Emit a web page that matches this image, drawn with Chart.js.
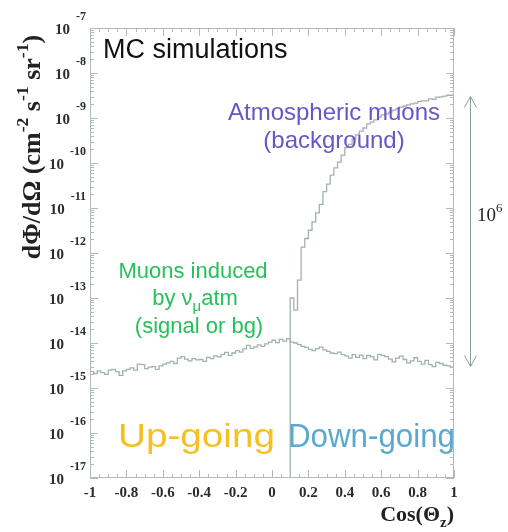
<!DOCTYPE html>
<html>
<head>
<meta charset="utf-8">
<script src="https://cdn.jsdelivr.net/npm/chart.js@4.4.1/dist/chart.umd.min.js"></script>
<style>
  html,body{margin:0;padding:0;background:#fff;}
  #wrap{width:508px;height:532px;position:relative;}
</style>
</head>
<body>
<div id="wrap"><canvas id="flux"></canvas></div>
<script>
// bins of 0.02 in cos(theta_z), from -1 to 1
var binWidth = 0.02;
var xMin = -1;
var xMax = 1;
var yMin = 1e-17;
var yMax = 1e-7;

// muons induced by atmospheric numu (100 bins, -1 .. 1)
var nuFlux = [
  2.3e-15,2.1e-15,2.4e-15,2.2e-15,2.0e-15,2.5e-15,2.6e-15,2.3e-15,1.9e-15,2.4e-15,
  2.6e-15,2.8e-15,2.5e-15,3.4e-15,3.3e-15,2.7e-15,2.9e-15,3.0e-15,2.6e-15,3.1e-15,
  3.4e-15,3.6e-15,3.9e-15,3.5e-15,4.6e-15,5.0e-15,4.4e-15,4.0e-15,4.5e-15,4.2e-15,
  4.3e-15,3.9e-15,4.8e-15,4.5e-15,5.2e-15,4.9e-15,5.6e-15,6.2e-15,5.3e-15,6.0e-15,
  6.8e-15,6.3e-15,7.4e-15,8.9e-15,7.6e-15,8.2e-15,9.1e-15,8.4e-15,9.6e-15,1.05e-14,
  1.15e-14,1.02e-14,1.2e-14,1.1e-14,1.25e-14,1.05e-14,1.0e-14,9.2e-15,8.4e-15,8.0e-15,
  7.2e-15,6.8e-15,7.5e-15,8.1e-15,7.0e-15,6.5e-15,6.0e-15,5.8e-15,6.3e-15,5.5e-15,
  5.2e-15,4.6e-15,5.5e-15,4.8e-15,5.4e-15,4.5e-15,5.3e-15,4.9e-15,4.2e-15,5.6e-15,
  5.3e-15,5.0e-15,4.4e-15,3.8e-15,4.6e-15,5.1e-15,4.3e-15,3.6e-15,4.0e-15,4.7e-15,
  3.9e-15,3.4e-15,4.1e-15,3.3e-15,3.0e-15,3.7e-15,3.5e-15,3.2e-15,3.1e-15,2.9e-15
];

// atmospheric muons, starting at cos = 0.1 (45 bins)
var muStart = 0.1;
var muFlux = [
  1.0e-13,5.4e-14,2.5e-13,1.35e-12,2.1e-12,3.2e-12,4.9e-12,7.8e-12,1.2e-11,2.3e-11,
  3.4e-11,5.4e-11,7.8e-11,1.05e-10,1.5e-10,2.2e-10,2.6e-10,3.4e-10,4.2e-10,5.1e-10,
  6.0e-10,7.4e-10,8.1e-10,9.1e-10,1.05e-9,1.17e-9,1.23e-9,1.35e-9,1.5e-9,1.6e-9,
  1.75e-9,1.85e-9,1.95e-9,2.05e-9,2.15e-9,2.3e-9,2.4e-9,2.4e-9,2.65e-9,2.6e-9,
  2.9e-9,2.95e-9,3.05e-9,3.2e-9,3.2e-9
];

var xTicks = [-1,-0.8,-0.6,-0.4,-0.2,0,0.2,0.4,0.6,0.8,1];
var yDecades = [-17,-16,-15,-14,-13,-12,-11,-10,-9,-8,-7];

// arrow marks the 10^6 gap between the two fluxes
var arrowTop = 3e-9;
var arrowBottom = 3e-15;

var lineColor = "#a2b2b0";
var frameColor = "#b3bbba";
var serifFont = "'Liberation Serif','DejaVu Serif',serif";
var sansFont = "'Liberation Sans',Arial,sans-serif";

// histogram -> step points (value held until next edge)
function histPoints(start, values, fromZero){
  var pts = [];
  if(fromZero){
    pts.push({x:start, y:yMin});
  }
  for(var i=0;i<values.length;i++){
    pts.push({x:+(start+i*binWidth).toFixed(4), y:values[i]});
  }
  pts.push({x:+(start+values.length*binWidth).toFixed(4), y:values[values.length-1]});
  return pts;
}

// draw a run of text pieces, some raised or lowered
function drawParts(ctx, parts, x, y, size, font, weight, align){
  var total = 0;
  var widths = [];
  for(var i=0;i<parts.length;i++){
    var s = parts[i].sup || parts[i].sub ? size*0.68 : size;
    ctx.font = weight + " " + s + "px " + font;
    var w = ctx.measureText(parts[i].t).width;
    widths.push(w);
    total += w;
  }
  var cx = x;
  if(align=="center") cx = x - total/2;
  if(align=="right") cx = x - total;
  ctx.textAlign = "left";
  ctx.textBaseline = "alphabetic";
  for(var i=0;i<parts.length;i++){
    var s = parts[i].sup || parts[i].sub ? size*0.68 : size;
    ctx.font = weight + " " + s + "px " + font;
    var dy = 0;
    if(parts[i].sup) dy = -size*0.45;
    if(parts[i].sub) dy = size*0.25;
    ctx.fillText(parts[i].t, cx, y+dy);
    cx += widths[i];
  }
}

// text squeezed/stretched to a given width
function fitText(ctx, txt, x, y, width){
  var w = ctx.measureText(txt).width;
  ctx.save();
  ctx.translate(x, y);
  ctx.scale(width/w, 1);
  ctx.textAlign = "left";
  ctx.fillText(txt, 0, 0);
  ctx.restore();
}

var framePlugin = {
  id:"frame",
  afterDatasetsDraw:function(chart){
    var ctx = chart.ctx;
    var a = chart.chartArea;
    var xs = chart.scales.x;
    var ys = chart.scales.y;
    ctx.save();
    ctx.strokeStyle = frameColor;
    ctx.lineWidth = 1;
    ctx.strokeRect(a.left+0.5, a.top+0.5, a.right-a.left-1, a.bottom-a.top-1);

    // x ticks, inside, bottom and top
    ctx.beginPath();
    for(var k=0;k<=40;k++){
      var v = xMin + k*0.05;
      var px = Math.round(xs.getPixelForValue(v))+0.5;
      var len = (k%4==0) ? 8 : 4;
      ctx.moveTo(px, a.bottom); ctx.lineTo(px, a.bottom-len);
      ctx.moveTo(px, a.top); ctx.lineTo(px, a.top+len);
    }
    // y ticks, log decades + minor
    for(var d=0;d<yDecades.length;d++){
      var e = yDecades[d];
      for(var m=1;m<10;m++){
        var val = m*Math.pow(10,e);
        if(val>yMax*1.0001) break;
        var py = Math.round(ys.getPixelForValue(val))+0.5;
        var len = (m==1) ? 8 : 4;
        ctx.moveTo(a.left, py); ctx.lineTo(a.left+len, py);
        ctx.moveTo(a.right, py); ctx.lineTo(a.right-len, py);
      }
    }
    ctx.stroke();

    // tick labels
    ctx.fillStyle = "#2b2b2b";
    ctx.textAlign = "center";
    ctx.textBaseline = "middle";
    ctx.font = "bold 15px " + serifFont;
    for(var i=0;i<xTicks.length;i++){
      ctx.fillText(String(xTicks[i]), xs.getPixelForValue(xTicks[i]), a.bottom+15);
    }
    for(var d=0;d<yDecades.length;d++){
      var py = ys.getPixelForValue(Math.pow(10,yDecades[d]));
      ctx.textAlign = "right";
      ctx.textBaseline = "alphabetic";
      ctx.font = "bold 12px " + serifFont;
      var ex = String(yDecades[d]);
      var ew = ctx.measureText(ex).width;
      ctx.fillText(ex, 86, py-8);
      ctx.font = "bold 15px " + serifFont;
      ctx.fillText("10", 86-ew-6, py+6);
    }

    // axis titles
    ctx.fillStyle = "#222";
    drawParts(ctx, [{t:"Cos(\u0398"},{t:"z",sub:true},{t:")"}], a.right, a.bottom+43, 22, serifFont, "bold", "right");
    ctx.save();
    ctx.translate(40, 147);
    ctx.rotate(-Math.PI/2);
    drawParts(ctx, [{t:"d\u03A6/d\u03A9 (cm"},{t:"-2",sup:true},{t:" s"},{t:"-1",sup:true},{t:" sr"},{t:"-1",sup:true},{t:")"}], 0, 0, 26, serifFont, "bold", "center");
    ctx.restore();

    // annotations
    ctx.fillStyle = "#111";
    ctx.textAlign = "left";
    ctx.font = "27px " + sansFont;
    ctx.fillText("MC simulations", a.left+13, 58);

    ctx.fillStyle = "#6a55c8";
    ctx.textAlign = "center";
    ctx.font = "24px " + sansFont;
    ctx.fillText("Atmospheric muons", 334, 120);
    ctx.fillText("(background)", 334, 148);

    ctx.fillStyle = "#27c05a";
    ctx.font = "22px " + sansFont;
    ctx.fillText("Muons induced", 193, 278);
    drawParts(ctx, [{t:"by \u03BD"},{t:"\u03BC",sub:true},{t:"atm"}], 195, 305, 22, sansFont, "normal", "center");
    ctx.textAlign = "center";
    ctx.font = "22px " + sansFont;
    ctx.fillText("(signal or bg)", 199, 333);

    ctx.font = "34px " + sansFont;
    ctx.fillStyle = "#f6bf22";
    fitText(ctx, "Up-going", 118, 447, 157);
    ctx.fillStyle = "#5ba9d1";
    fitText(ctx, "Down-going", 288, 447, 167);

    // 10^6 arrow
    var ay1 = ys.getPixelForValue(arrowTop);
    var ay2 = ys.getPixelForValue(arrowBottom);
    var ax = 470.5;
    ctx.strokeStyle = "#8e9c9b";
    ctx.lineWidth = 1;
    ctx.beginPath();
    ctx.moveTo(ax, ay1); ctx.lineTo(ax, ay2);
    ctx.moveTo(ax-6, ay1+11); ctx.lineTo(ax, ay1); ctx.lineTo(ax+6, ay1+11);
    ctx.moveTo(ax-6, ay2-11); ctx.lineTo(ax, ay2); ctx.lineTo(ax+6, ay2-11);
    ctx.stroke();
    ctx.fillStyle = "#222";
    drawParts(ctx, [{t:"10"},{t:"6",sup:true}], 477, 221, 19, serifFont, "normal", "left");
    ctx.restore();
  }
};

var ctx = document.getElementById("flux");
var chart = new Chart(ctx,{
  type:"line",
  data:{
    datasets:[{
      label:"nu induced",
      data:histPoints(xMin, nuFlux, false),
      borderColor:lineColor,
      borderWidth:1.3,
      pointRadius:0,
      stepped:"before",
      fill:false
    },{
      label:"atm muons",
      data:histPoints(muStart, muFlux, true),
      borderColor:lineColor,
      borderWidth:1.3,
      pointRadius:0,
      stepped:"before",
      fill:false
    }]
  },
  options:{
    responsive:true,
    maintainAspectRatio:false,
    animation:false,
    layout:{padding:{left:90,right:54,top:28,bottom:54}},
    plugins:{legend:{display:false},tooltip:{enabled:false}},
    scales:{
      x:{type:"linear",min:xMin,max:xMax,display:false},
      y:{type:"logarithmic",min:yMin,max:yMax,display:false}
    }
  },
  plugins:[framePlugin]
});
</script>
</body>
</html>
